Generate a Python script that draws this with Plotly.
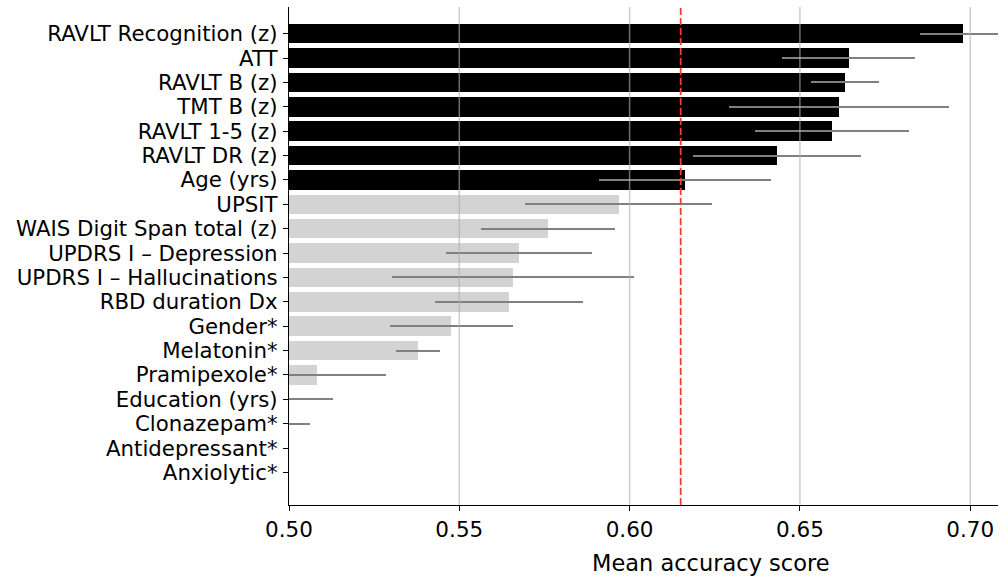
import plotly.graph_objects as go

# Features, ordered top to bottom
features = [
    "RAVLT Recognition (z)", "ATT", "RAVLT B (z)", "TMT B (z)", "RAVLT 1-5 (z)",
    "RAVLT DR (z)", "Age (yrs)", "UPSIT", "WAIS Digit Span total (z)",
    "UPDRS I – Depression", "UPDRS I – Hallucinations", "RBD duration Dx",
    "Gender*", "Melatonin*", "Pramipexole*", "Education (yrs)", "Clonazepam*",
    "Antidepressant*", "Anxiolytic*",
]
mean_accuracy = [
    0.6978, 0.6643, 0.6632, 0.6615, 0.6594, 0.6432, 0.6163, 0.5968, 0.5761,
    0.5676, 0.5657, 0.5645, 0.5477, 0.5378, 0.5081, 0.4950, 0.4900, 0.4800,
    0.4700,
]
accuracy_err = [
    0.0124, 0.0196, 0.0099, 0.0324, 0.0227, 0.0246, 0.0252, 0.0275, 0.0197,
    0.0214, 0.0355, 0.0217, 0.0180, 0.0064, 0.0203, 0.0178, 0.0162, 0.0120,
    0.0150,
]
threshold = 0.615
x_ticks = [0.50, 0.55, 0.60, 0.65, 0.70]

bar_colors = ["#000000" if v > threshold else "#d3d3d3" for v in mean_accuracy]

FONT = "DejaVu Sans"

fig = go.Figure(
    go.Bar(
        x=mean_accuracy,
        y=features,
        orientation="h",
        width=0.8,
        marker=dict(color=bar_colors, line=dict(width=0)),
        error_x=dict(type="data", array=accuracy_err, color="#808080",
                     thickness=2, width=0),
        showlegend=False,
    )
)

shapes = []
# vertical grid lines drawn over the bars
for t in x_ticks[1:]:
    shapes.append(dict(type="line", xref="x", yref="paper", x0=t, x1=t,
                       y0=0, y1=1, layer="above",
                       line=dict(color="rgba(176,176,176,0.63)", width=1.5)))
# selection threshold
shapes.append(dict(type="line", xref="x", yref="paper", x0=threshold,
                   x1=threshold, y0=0, y1=1, layer="above",
                   line=dict(color="#ea4430", width=1.8, dash="7px,3px")))

n = len(features)
fig.update_layout(
    width=1003, height=578,
    margin=dict(l=289, r=5, t=7, b=73),
    paper_bgcolor="white", plot_bgcolor="white",
    font=dict(family=FONT, color="black"),
    shapes=shapes,
    bargap=0,
    xaxis=dict(
        range=[0.5, 0.70816],
        tickvals=x_ticks,
        ticktext=[f"{t:.2f}" for t in x_ticks],
        showgrid=False, zeroline=False,
        showline=True, linecolor="black", linewidth=1.25,
        ticks="outside", ticklen=5, tickwidth=1.25, tickcolor="black",
        tickfont=dict(size=21.5, family=FONT),
        layer="above traces",
    ),
    yaxis=dict(
        categoryorder="array", categoryarray=features,
        tickmode="array", tickvals=features, ticktext=features,
        range=[n - 1 + 1.337, -1.095],
        showgrid=False, zeroline=False,
        showline=True, linecolor="black", linewidth=1.25,
        ticks="outside", ticklen=5, tickwidth=1.25, tickcolor="black",
        tickfont=dict(size=21.3, family=FONT),
        ticklabelstandoff=1,
        layer="above traces",
    ),
    annotations=[dict(
        text="Mean accuracy score", xref="paper", yref="paper",
        x=0.5945, y=-0.1165, xanchor="center", yanchor="middle",
        showarrow=False, font=dict(size=22.5, family=FONT, color="black"),
    )],
)

fig.write_html("out.html")
